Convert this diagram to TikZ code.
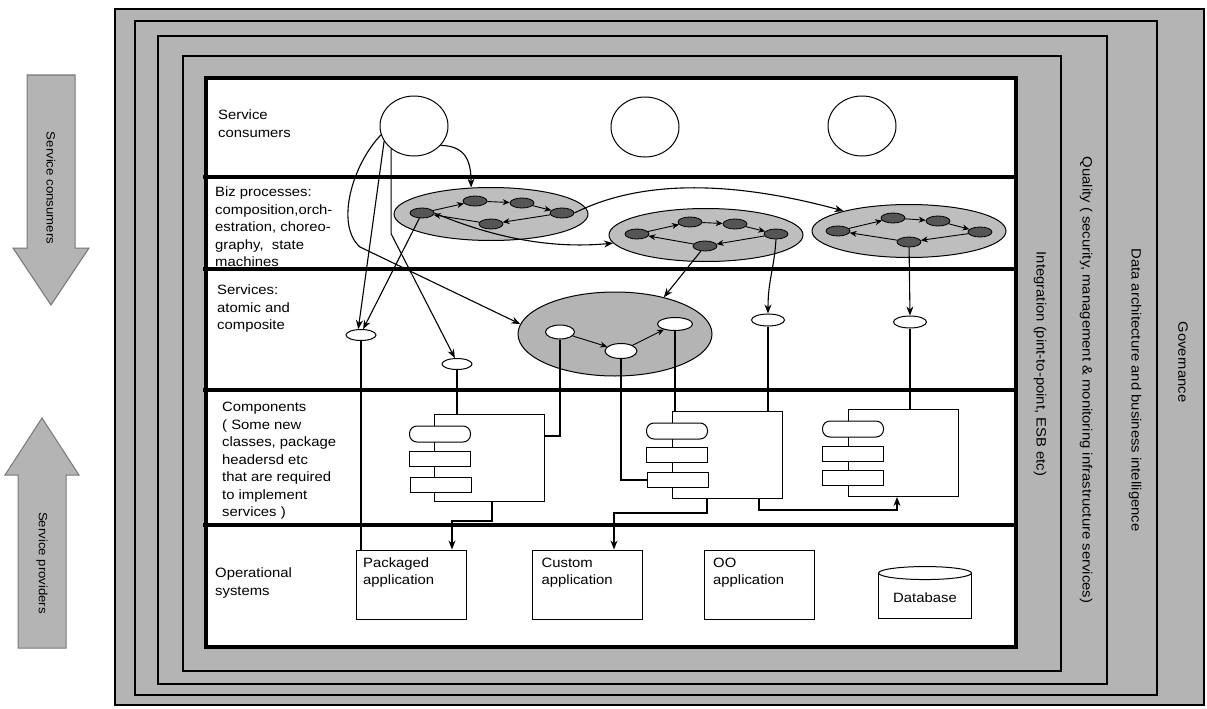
\documentclass[tikz,border=0pt]{standalone}
\usepackage{fontspec}
\setmainfont[FakeStretch=1.1]{Liberation Sans}
\usetikzlibrary{arrows.meta,shapes.geometric,positioning,calc}
\definecolor{RingGray}{RGB}{180,180,180}
\definecolor{ProcGray}{RGB}{190,190,190}
\definecolor{TaskGray}{RGB}{85,85,85}
\definecolor{EdgeGray}{RGB}{120,120,120}
\tikzset{
  ring/.style={draw=black,fill=RingGray,line width=2pt},
  layersep/.style={draw=black,line width=3.5pt},
  lbl/.style={anchor=north west,align=left,inner sep=0pt},
  vtxt/.style={rotate=-90,inner sep=0pt},
  cons/.style={draw,ellipse,fill=white,minimum width=68pt,minimum height=60pt,line width=1pt},
  bproc/.style={draw,ellipse,fill=ProcGray,minimum width=194pt,minimum height=53pt,line width=1pt},
  task/.style={draw,ellipse,fill=TaskGray,minimum width=24pt,minimum height=10pt,inner sep=0pt,line width=0.8pt},
  svc/.style={draw,ellipse,fill=white,minimum width=30pt,minimum height=11pt,inner sep=0pt,line width=1pt},
  csvcbox/.style={draw,ellipse,fill=RingGray,minimum width=194pt,minimum height=84pt,line width=1pt},
  cbody/.style={draw,fill=white,minimum width=110pt,minimum height=87pt,inner sep=0pt,line width=1pt},
  cpill/.style={draw,fill=white,rounded corners=7.5pt,minimum width=61pt,minimum height=16pt,inner sep=0pt,line width=1pt},
  cbar/.style={draw,fill=white,minimum width=61pt,minimum height=15pt,inner sep=0pt,line width=1pt},
  opbox/.style={draw,fill=white,minimum width=110pt,minimum height=69pt,inner sep=0pt,line width=1pt},
  arr/.style={-{Stealth[length=9pt,width=7pt]},line width=1.1pt},
  sarr/.style={-{Stealth[length=7pt,width=6pt]},line width=0.9pt},
  lnk/.style={line width=1.1pt},
}

\begin{document}
\begin{tikzpicture}[x=1pt, y=-1pt,
    font=\fontsize{13.5}{17.5}\selectfont,
    barr/.style={draw=EdgeGray, fill=RingGray, line width=1pt}
]
    \useasboundingbox (0,0) rectangle (1207,709);

    % Rings
    \draw[ring, line width=1.3pt] (115,9) rectangle (1204,705);
    \draw[ring] (135,21) rectangle (1157,695);
    \draw[ring] (158,36) rectangle (1107,684);
    \draw[ring] (183,56) rectangle (1061,671);
    \draw[fill=white, line width=4pt] (206,78) rectangle (1016,647);
    \draw[layersep] (203,177) -- (1016,177);
    \draw[layersep] (203,269) -- (1016,269);
    \draw[layersep] (203,390) -- (1016,390);
    \draw[layersep] (203,525) -- (1016,525);

    \node[vtxt] (tgov) at (1183,362) {Governance};
    \node[vtxt] (tdata) at (1135,390) {Data architecture and business intelligence};
    \node[vtxt] (tqual) at (1086,380) {Quality ( security, management \& monitoring infrastructure services)};
    \node[vtxt] (tint) at (1040,364) {Integration (pint-to-point, ESB etc)};

    % Side arrows
    \draw[barr] (27,75) -- (75,75) -- (75,248) -- (89,248) -- (51,305) -- (13,248) -- (27,248) -- cycle;
    \draw[barr] (18,648) -- (66,648) -- (66,475) -- (79,475) -- (42,418) -- (5,475) -- (18,475) -- cycle;
    \node[vtxt, font=\fontsize{12}{14}\selectfont] (tsc) at (51,188) {Service consumers};
    \node[vtxt, font=\fontsize{12}{14}\selectfont] (tsp) at (42,563) {Service providers};

    % Layer labels
    \node[lbl] (lcons) at (218,110) {Service\\consumers};
    \node[lbl] (lbiz) at (215,187) {Biz processes:\\composition,orch-\\estration, choreo-\\graphy,\ \ state\\machines};
    \node[lbl] (lsvc) at (217,285) {Services:\\atomic and\\composite};
    \node[lbl] (lcmp) at (222,402) {Components\\( Some new\\classes, package\\headersd etc\\that are required\\to implement\\services )};
    \node[lbl] (lops) at (215,568) {Operational\\systems};

    % Service consumers
    \node[cons] (cons1) at (414,126) {};
    \node[cons] (cons2) at (645,127) {};
    \node[cons] (cons3) at (862,126) {};

    % Biz processes
    \node[bproc] (bp1) at (491,214) {};
    \node[task] (bp1l) at (422,213) {};
    \node[task] (bp1u) at (475,201) {};
    \node[task] (bp1ur) at (522,203) {};
    \node[task] (bp1r) at (562,213) {};
    \node[task] (bp1lo) at (491,224) {};
    \node[bproc] (bp2) at (706,235) {};
    \node[task] (bp2l) at (637,234) {};
    \node[task] (bp2u) at (690,222) {};
    \node[task] (bp2ur) at (735,224) {};
    \node[task] (bp2r) at (776,234) {};
    \node[task] (bp2lo) at (705,246) {};
    \node[bproc] (bp3) at (909,231) {};
    \node[task] (bp3l) at (838,231) {};
    \node[task] (bp3u) at (893,218) {};
    \node[task] (bp3ur) at (938,221) {};
    \node[task] (bp3r) at (980,232) {};
    \node[task] (bp3lo) at (909,242) {};

    \draw[sarr] (bp1l) -- (bp1u);
    \draw[sarr] (bp1u) -- (bp1ur);
    \draw[sarr] (bp1ur) -- (bp1r);
    \draw[sarr] (bp1r) -- (bp1lo);
    \draw[sarr] (bp1lo) -- (bp1l);
    \draw[sarr] (bp2l) -- (bp2u);
    \draw[sarr] (bp2u) -- (bp2ur);
    \draw[sarr] (bp2ur) -- (bp2r);
    \draw[sarr] (bp2r) -- (bp2lo);
    \draw[sarr] (bp2lo) -- (bp2l);
    \draw[sarr] (bp3l) -- (bp3u);
    \draw[sarr] (bp3u) -- (bp3ur);
    \draw[sarr] (bp3ur) -- (bp3r);
    \draw[sarr] (bp3r) -- (bp3lo);
    \draw[sarr] (bp3lo) -- (bp3l);

    % Services
    \node[svc] (svc1) at (361,335) {};
    \node[svc] (svc2) at (457,364) {};
    \node[csvcbox] (csvc) at (615,334) {};
    \node[svc, minimum width=29pt, minimum height=14pt] (atom1) at (560,332) {};
    \node[svc, minimum width=32pt, minimum height=15pt] (atom2) at (621,351) {};
    \node[svc, minimum width=35pt, minimum height=13pt] (atom3) at (675,324) {};
    \node[svc, minimum width=33pt, minimum height=12pt] (svc3) at (768,320) {};
    \node[svc, minimum width=33pt, minimum height=12pt] (svc4) at (910,322) {};
    \draw[sarr] (atom1) -- (atom2);
    \draw[sarr] (atom2) -- (atom3);

    % Components
    \node[cbody] (cmp1) at (489,458) {};
    \node[cpill] (cmp1p) at (440,434) {};
    \node[cbar] (cmp1a) at (440,459) {};
    \node[cbar] (cmp1b) at (441,485) {};
    \node[cbody] (cmp2) at (727,455) {};
    \node[cpill] (cmp2p) at (677,431) {};
    \node[cbar] (cmp2a) at (677,455) {};
    \node[cbar] (cmp2b) at (678,480) {};
    \node[cbody] (cmp3) at (903,453) {};
    \node[cpill] (cmp3p) at (853,429) {};
    \node[cbar] (cmp3a) at (853,454) {};
    \node[cbar] (cmp3b) at (853,478) {};

    % Operational systems
    \node[opbox] (pkg) at (411.5,584.5) {};
    \node[opbox] (cust) at (587,584.5) {};
    \node[opbox] (ooapp) at (759.5,584.5) {};
    \node[lbl, below right=8pt and 7pt of pkg.north west] (tpkg) {Packaged\\application};
    \node[lbl, below right=8pt and 10pt of cust.north west] (tcust) {Custom\\application};
    \node[lbl, below right=8pt and 9pt of ooapp.north west] (too) {OO\\application};
    \node[minimum width=93pt, minimum height=45.5pt, inner sep=0pt] (db) at (925,596) {};
    \draw[fill=white, line width=1pt] (db.north west) -- (db.south west) -- (db.south east) -- (db.north east);
    \draw[fill=white, line width=1pt] (db.north) ellipse [x radius=46.5, y radius=6.5];
    \node at (db.center) [yshift=-2pt] {Database};

    % Consumer links
    \draw[arr] (cons1.-36) .. controls (465,146) and (471,160) .. (bp1.127);
    \draw[arr] (cons1.195) .. controls (352,165) and (335,225) .. (360,247) -- (csvc.174);
    \draw[arr] (cons1.207) -- (svc1.115);
    \draw[arr] (cons1.225) -- ++(0,85) -- (svc2.110);

    % Process links
    \draw[arr] (bp1l) -- (svc1.70);
    \draw[arr] (bp1l.east) .. controls (480,232) and (540,250) .. (bp2.185);
    \draw[arr] (bp1r.east) .. controls (640,180) and (730,180) .. (bp3.163);
    \draw[arr] (bp2lo) -- (csvc.37);
    \draw[arr] (bp2r.south) .. controls (774,270) and (768,280) .. (svc3.north);
    \draw[arr] (bp3lo) -- (svc4.north);

    % Service to component links
    \draw[lnk] (svc1.south) -- (svc1.south |- pkg.north);
    \draw[lnk] (svc2.south) -- (svc2.south |- cmp1.north);
    \draw[lnk] (atom1.south) |- ([yshift=-22pt]cmp1.north east);
    \draw[lnk] (atom2.south) |- (cmp2b.west);
    \draw[lnk] (atom3.south) -- (atom3.south |- cmp2.north);
    \draw[lnk] (svc3.south) -- (svc3.south |- cmp2.north);
    \draw[lnk] (svc4.south) -- (svc4.south |- cmp3.north);
    \draw[arr] ([xshift=3pt]cmp1.south) -- ++(0,19) -| ([xshift=-15pt]pkg.north east);
    \draw[arr] ([xshift=-20pt]cmp2.south) -- ++(0,14) -| ([xshift=27pt]cust.north);
    \draw[arr] ([xshift=32pt]cmp2.south) -- ++(0,11) -| ([xshift=-6pt]cmp3.south);

\end{tikzpicture}
\end{document}
